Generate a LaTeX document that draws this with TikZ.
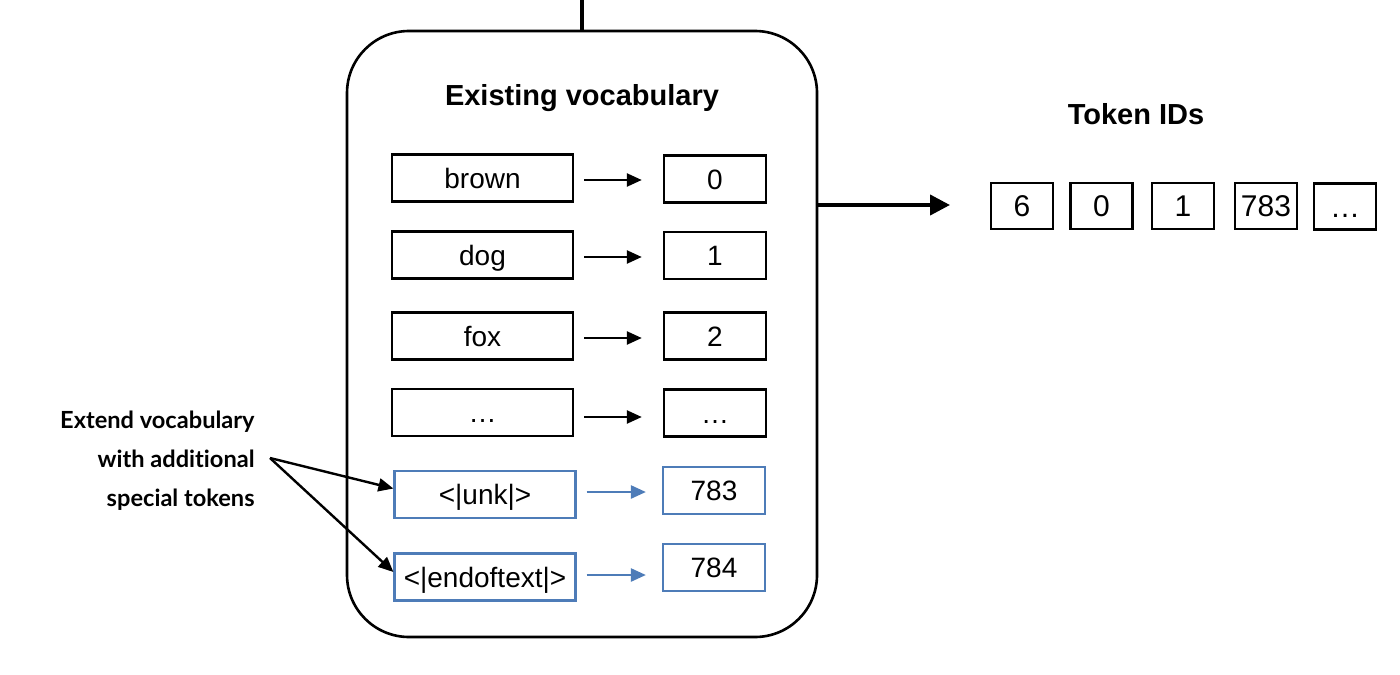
\documentclass[tikz,border=0pt]{standalone}
\usepackage{fontspec}
\setmainfont{Liberation Sans}
\newfontfamily\labelfont[Ligatures={NoCommon}]{Lato}
\usetikzlibrary{arrows.meta,calc}
\definecolor{specblue}{RGB}{78,124,184}
\begin{document}
\begin{tikzpicture}[x=0.5pt,y=-0.5pt,
  vbox/.style={draw, line width=1.2pt, inner sep=0pt, font=\fontsize{14}{16}\selectfont, text height=10pt, text depth=0pt},
  wordbox/.style={vbox, minimum width=90.5pt, minimum height=23.5pt},
  idbox/.style={vbox, minimum width=51pt, minimum height=23.5pt},
  specbox/.style={draw=specblue, line width=1.1pt},
  tokbox/.style={draw, line width=1.2pt, inner sep=0pt, minimum width=31pt, minimum height=23pt, font=\fontsize{15}{17}\selectfont, text height=10.7pt, text depth=0pt},
  smallarr/.style={line width=1.2pt, -{Triangle[length=7.5pt,width=6.5pt]}},
  bigarr/.style={line width=2pt, -{Triangle[length=10pt,width=10pt]}},
  title/.style={font=\fontsize{14.5}{17}\selectfont\bfseries, inner sep=0pt}
]
\useasboundingbox (0,0) rectangle (1400,674);

% main vocabulary container
\node[draw, line width=1.3pt, rounded corners=31pt, minimum width=235pt, minimum height=303pt, inner sep=0pt] (vocab) at (582,334) {};
\coordinate (topin) at (582,0);
\draw[line width=2pt] (topin) -- (vocab.north);

\node[title, anchor=base] (vtitle) at (582,105) {Existing vocabulary};

% word boxes
\node[wordbox] (w1) at (482.5,178) {brown};
\node[wordbox] (w2) at (482.5,255) {dog};
\node[wordbox] (w3) at (482.5,336) {fox};
\node[wordbox] (w4) at (482.5,412.5) {…};
\node[wordbox, specbox] (w5) at (485,494.5) {<|unk|>};
\node[wordbox, specbox] (w6) at (485,577) {<|endoftext|>};

% id boxes
\node[idbox] (i1) at (715,179) {0};
\node[idbox] (i2) at (715,255.5) {1};
\node[idbox] (i3) at (715,336) {2};
\node[idbox] (i4) at (715,413) {…};
\node[idbox, specbox] (i5) at (714,490.5) {783};
\node[idbox, specbox] (i6) at (714,567.5) {784};

% mapping arrows
\foreach \k in {1,2,3} {
  \draw[smallarr, shorten <=5pt, shorten >=10.5pt] ($(w\k.east)+(0,2)$) -- ($(w\k.east -| i\k.west)+(0,2)$);
}
\draw[smallarr, shorten <=5pt, shorten >=10.5pt] ($(w4.east)+(0,4.5)$) -- ($(w4.east -| i4.west)+(0,4.5)$);
\draw[smallarr, specblue, shorten <=5pt, shorten >=8pt] ($(w5.east)+(0,-2.5)$) -- ($(w5.east -| i5.west)+(0,-2.5)$);
\draw[smallarr, specblue, shorten <=5pt, shorten >=8pt] ($(w6.east)+(0,-2)$) -- ($(w6.east -| i6.west)+(0,-2)$);

% output arrow
\coordinate (outtip) at (950,205);
\draw[bigarr] (vocab.east |- outtip) -- (outtip);

% token IDs
\node[title, anchor=base] (ttitle) at (1136,125) {Token IDs};
\node[tokbox] (t1) at (1022,206) {6};
\node[tokbox] (t2) at (1101.5,206) {0};
\node[tokbox] (t3) at (1183,206) {1};
\node[tokbox] (t4) at (1266,206) {783};
\node[tokbox] (t5) at (1345,206.5) {…};

% annotation
\node[anchor=east, align=right, inner sep=0pt, font=\labelfont\bfseries\fontsize{11.8}{19.5}\selectfont] (note) at (255,461) {Extend vocabulary\\with additional\\special tokens};
\coordinate (src) at (270,458);
\draw[smallarr] (src) -- ($(w5.west)+(0,-6)$);
\draw[smallarr] (src) -- ($(w6.west)+(0,-5)$);
\end{tikzpicture}
\end{document}
